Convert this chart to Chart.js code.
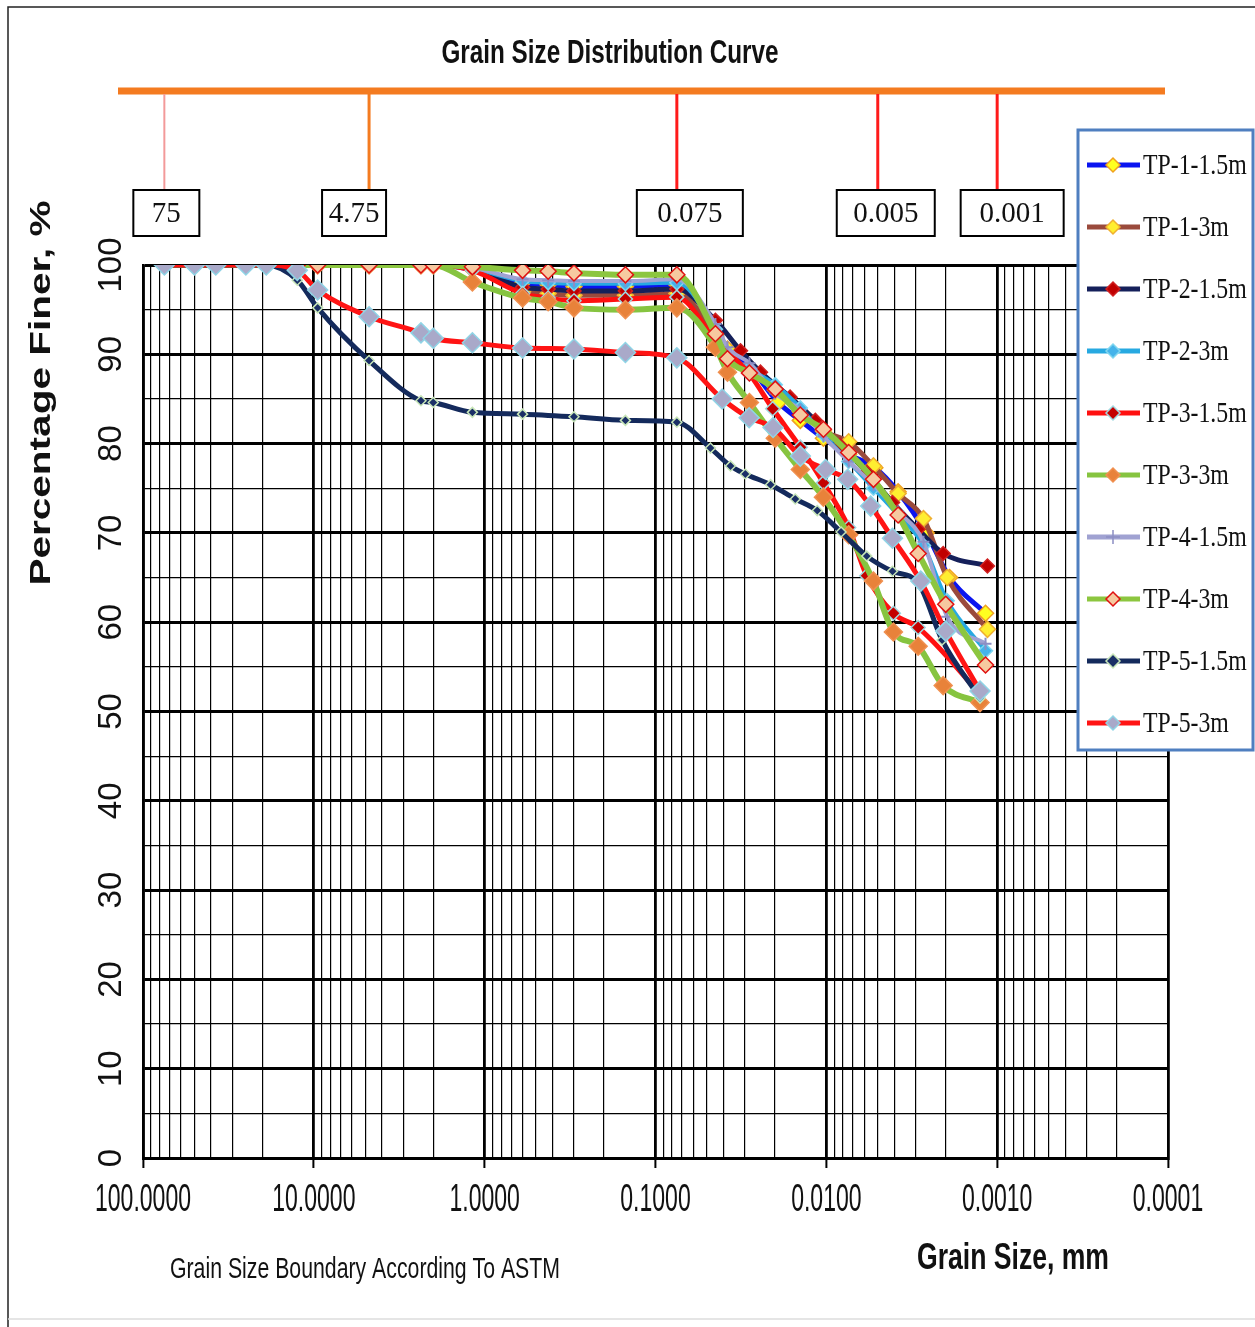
<!DOCTYPE html>
<html>
<head>
<meta charset="utf-8">
<title>Grain Size Distribution Curve</title>
<script src="https://cdn.jsdelivr.net/npm/chart.js@4.4.1/dist/chart.umd.min.js"></script>
<style>
  body { margin: 0; background: #fff; }
  #wrap { width: 1255px; height: 1327px; }
</style>
</head>
<body>
<div id="wrap"><canvas id="gsd" width="1255" height="1327"></canvas></div>
<script>
// ---- data ----
const seriesNames = ['TP-1-1.5m', 'TP-1-3m', 'TP-2-1.5m', 'TP-2-3m', 'TP-3-1.5m',
                     'TP-3-3m', 'TP-4-1.5m', 'TP-4-3m', 'TP-5-1.5m', 'TP-5-3m'];

// sieve openings, mm
const sieveSizes = [75, 50, 37.5, 25, 19, 12.5, 9.5, 4.75, 2.36, 2.0, 1.18, 0.6, 0.425, 0.3, 0.15, 0.075];

// percent finer on the sieves (null = no reading)
const tp1_15Sieve = [100, 100, 100, 100, 100, 100, 100, 100, 100, 100, 99.5, 98.0, 97.8, 97.6, 97.6, 97.8];
const tp1_3Sieve  = [100, 100, 100, 100, 100, 100, 100, 100, 100, 100, 99.5, 97.0, 96.8, 96.6, 96.6, 96.8];
const tp2_15Sieve = [100, 100, 100, 100, 100, 100, 100, 100, 100, 100, 99.6, 97.5, 97.3, 97.1, 97.1, 97.3];
const tp2_3Sieve  = [100, 100, 100, 100, 100, 100, 100, 100, 100, 100, 99.6, 98.2, 98.0, 97.9, 97.9, 98.0];
const tp3_15Sieve = [100, 100, 100, 100, 100, 100, 100, 100, 100, 100, 99.4, 96.8, 96.3, 96.0, 96.2, 96.4];
const tp3_3Sieve  = [100, 100, 100, 100, 100, 100, 100, 100, 100, 100, 98.1, 96.3, 95.9, 95.2, 95.0, 95.2];
const tp4_15Sieve = [100, 100, 100, 100, 100, 100, 100, 100, 100, 100, 99.7, 98.4, 98.3, 98.2, 98.2, 98.4];
const tp4_3Sieve  = [100, 100, 100, 100, 100, 100, 100, 100, 100, 100, 99.8, 99.4, 99.3, 99.1, 98.9, 98.9];
const tp5_15Sieve = [100, 100, 100, 100, 100, 98.3, 95.2, 89.3, 84.8, 84.6, 83.5, 83.3, null, 83.0, 82.6, 82.4];
const tp5_3Sieve  = [100, 100, 100, 100, 100, 99.4, 97.2, 94.2, 92.4, 91.8, 91.3, 90.7, null, 90.6, 90.2, 89.6];

// hydrometer diameters, mm, and percent finer
const tp1_15HydD = [0.0446, 0.0379, 0.0282, 0.0191, 0.0142, 0.0104, 0.0074, 0.0052, 0.0038, 0.0026, 0.0019, 0.00117];
const tp1_15HydP = [93.0, 90.6, 88.6, 84.6, 82.6, 80.6, 78.8, 77.3, 74.6, 70.0, 65.0, 61.0];
const tp1_3HydD  = [0.0446, 0.0379, 0.0282, 0.0199, 0.0142, 0.0104, 0.0074, 0.0053, 0.0038, 0.0027, 0.00196, 0.00114];
const tp1_3HydP  = [92.2, 90.0, 88.2, 86.0, 83.6, 81.4, 80.2, 77.5, 74.4, 71.6, 65.0, 59.2];
const tp2_15HydD = [0.0446, 0.0318, 0.0243, 0.0163, 0.0116, 0.0083, 0.0058, 0.0041, 0.0029, 0.00207, 0.00114];
const tp2_15HydP = [93.8, 90.4, 88.0, 85.2, 82.6, 79.8, 76.8, 73.4, 70.4, 67.7, 66.3];
const tp2_3HydD  = [0.0446, 0.0379, 0.0282, 0.0199, 0.0142, 0.0104, 0.0074, 0.0053, 0.0038, 0.0027, 0.00196, 0.00117];
const tp2_3HydP  = [92.8, 90.2, 88.4, 86.6, 84.0, 81.0, 78.0, 75.0, 72.0, 68.6, 62.4, 56.8];
const tp3_15HydD = [0.0446, 0.0282, 0.0206, 0.0142, 0.0104, 0.0074, 0.0058, 0.00405, 0.0029, 0.00126];
const tp3_15HydP = [91.6, 87.8, 83.9, 79.6, 75.6, 70.6, 65.2, 61.0, 59.4, 52.0];
const tp3_3HydD  = [0.0446, 0.0379, 0.0282, 0.0199, 0.0142, 0.0104, 0.0074, 0.0053, 0.00405, 0.0029, 0.00207, 0.00126];
const tp3_3HydP  = [90.8, 88.0, 84.6, 80.6, 77.1, 74.0, 69.8, 64.6, 58.9, 57.3, 52.9, 51.0];
const tp4_15HydD = [0.0446, 0.0379, 0.0282, 0.0199, 0.0142, 0.0104, 0.0074, 0.0053, 0.0038, 0.0027, 0.00196, 0.00117];
const tp4_15HydP = [93.4, 90.8, 89.0, 85.6, 83.8, 80.8, 78.0, 75.4, 72.4, 69.0, 60.6, 57.6];
const tp4_3HydD  = [0.0446, 0.0379, 0.0282, 0.0199, 0.0142, 0.0104, 0.0074, 0.0053, 0.0038, 0.0029, 0.0020, 0.00117];
const tp4_3HydP  = [92.3, 89.5, 87.9, 86.1, 83.2, 81.6, 79.0, 76.0, 72.0, 67.7, 62.0, 55.2];
const tp5_15HydD = [0.0477, 0.0364, 0.0298, 0.0212, 0.0152, 0.0113, 0.0082, 0.0058, 0.0041, 0.0029, 0.0021, 0.00126];
const tp5_15HydP = [79.5, 77.5, 76.6, 75.4, 73.8, 72.5, 70.1, 67.4, 65.7, 64.4, 58.0, 51.5];
const tp5_3HydD  = [0.0407, 0.0283, 0.0205, 0.0142, 0.0101, 0.0075, 0.0055, 0.0041, 0.0028, 0.0020, 0.00126];
const tp5_3HydP  = [85.0, 82.9, 81.8, 78.6, 77.1, 76.0, 73.0, 69.4, 64.6, 59.0, 52.3];

// axes
const decadeTicks  = [100, 10, 1, 0.1, 0.01, 0.001, 0.0001];
const decadeLabels = ['100.0000', '10.0000', '1.0000', '0.1000', '0.0100', '0.0010', '0.0001'];
const yTickValues  = [0, 10, 20, 30, 40, 50, 60, 70, 80, 90, 100];

// ASTM boundaries shown above the plot
const astmSizes  = [75, 4.75, 0.075, 0.005, 0.001];
const astmLabels = ['75', '4.75', '0.075', '0.005', '0.001'];

// ---- styles ----
const lineColors   = ['#0a14f0', '#9a4a3c', '#15205a', '#27a9e1', '#ff1010',
                      '#86c440', '#a0a2d2', '#8cc63f', '#142a5c', '#ff1414'];
const markFill     = ['#ffff20', '#ffee30', '#c00000', '#45b3ea', '#c40000',
                      '#e8823a', '#8c8ec4', '#f6c9a0', '#1b2f66', '#a9a9c9'];
const markBorder   = ['#f0a020', '#f0b030', '#d02020', '#7fd6ef', '#9fd8e0',
                      '#f09050', '#8c8ec4', '#e01010', '#c8e6b8', '#8fd4e6'];
const markStyle    = ['rectRot', 'rectRot', 'rectRot', 'rectRot', 'rectRot',
                      'rectRot', 'cross', 'rectRot', 'rectRot', 'rectRot'];
const markRadius   = [8, 8, 7, 7, 7, 9, 6, 8, 5, 10];
const lineWidths   = [5, 5, 5, 4, 5, 6, 4, 6, 5, 5];

const sieveSets = [tp1_15Sieve, tp1_3Sieve, tp2_15Sieve, tp2_3Sieve, tp3_15Sieve,
                   tp3_3Sieve, tp4_15Sieve, tp4_3Sieve, tp5_15Sieve, tp5_3Sieve];
const hydD = [tp1_15HydD, tp1_3HydD, tp2_15HydD, tp2_3HydD, tp3_15HydD,
              tp3_3HydD, tp4_15HydD, tp4_3HydD, tp5_15HydD, tp5_3HydD];
const hydP = [tp1_15HydP, tp1_3HydP, tp2_15HydP, tp2_3HydP, tp3_15HydP,
              tp3_3HydP, tp4_15HydP, tp4_3HydP, tp5_15HydP, tp5_3HydP];

function points(sieve, dd, pp) {
  const out = [];
  sieve.forEach((v, i) => { if (v !== null) out.push({ x: sieveSizes[i], y: v }); });
  dd.forEach((d, i) => out.push({ x: d, y: pp[i] }));
  return out;
}

const datasets = seriesNames.map((name, i) => ({
  label: name,
  data: points(sieveSets[i], hydD[i], hydP[i]),
  borderColor: lineColors[i],
  borderWidth: lineWidths[i],
  backgroundColor: markFill[i],
  pointBackgroundColor: markFill[i],
  pointBorderColor: markBorder[i],
  pointBorderWidth: markStyle[i] === 'cross' ? 2 : 1.5,
  pointStyle: markStyle[i],
  pointRadius: markRadius[i],
  cubicInterpolationMode: 'monotone',
  order: seriesNames.length - i   // later series on top, as in the sheet
}));

function isDecade(v) {
  const l = Math.log10(v);
  return Math.abs(l - Math.round(l)) < 1e-6;
}

// text squeezed or stretched to a given width
function fitText(ctx, s, x, y, font, width, rot, align) {
  ctx.save();
  ctx.font = font;
  const w = ctx.measureText(s).width;
  ctx.translate(x, y);
  if (rot) ctx.rotate(rot);
  ctx.scale(width ? width / w : 1, 1);
  ctx.textAlign = align || 'center';
  ctx.textBaseline = 'middle';
  ctx.fillText(s, 0, 0);
  ctx.restore();
}

const decor = {
  id: 'decor',
  beforeDraw(chart) {
    const ctx = chart.ctx;
    ctx.save();
    ctx.fillStyle = '#fff';
    ctx.fillRect(0, 0, chart.width, chart.height);
    ctx.strokeStyle = '#222';
    ctx.lineWidth = 1.5;
    ctx.beginPath();
    ctx.moveTo(8, chart.height); ctx.lineTo(8, 7); ctx.lineTo(chart.width, 7);
    ctx.stroke();
    ctx.strokeStyle = '#ddd';
    ctx.beginPath(); ctx.moveTo(8, 1319); ctx.lineTo(chart.width, 1319); ctx.stroke();
    ctx.restore();
  },
  afterDraw(chart) {
    const ctx = chart.ctx;
    const xs = chart.scales.x, ys = chart.scales.y;
    ctx.save();
    ctx.fillStyle = '#111';

    // title
    fitText(ctx, 'Grain Size Distribution Curve', 610, 54, 'bold 34px "Liberation Sans", Arial, sans-serif', 337);

    // ASTM boundary bar
    ctx.strokeStyle = '#f47b20';
    ctx.lineWidth = 7;
    ctx.beginPath(); ctx.moveTo(118, 91); ctx.lineTo(1165, 91); ctx.stroke();
    const boxW = [66, 64, 106, 98, 103];
    const boxShift = [2, -15, 13, 8, 15];
    const dropColor = ['#f39a9a', '#f47b20', '#ff1a1a', '#ff1a1a', '#ff1a1a'];
    astmSizes.forEach((s, i) => {
      const px = xs.getPixelForValue(s);
      ctx.strokeStyle = dropColor[i];
      ctx.lineWidth = i === 0 ? 2 : 3;
      ctx.beginPath(); ctx.moveTo(px, 94); ctx.lineTo(px, 190); ctx.stroke();
      const cx = px + boxShift[i];
      ctx.fillStyle = '#fff';
      ctx.fillRect(cx - boxW[i] / 2, 190, boxW[i], 46);
      ctx.strokeStyle = '#000';
      ctx.lineWidth = 2;
      ctx.strokeRect(cx - boxW[i] / 2, 190, boxW[i], 46);
      ctx.fillStyle = '#111';
      fitText(ctx, astmLabels[i], cx, 214, '29px "Liberation Serif", "Times New Roman", serif', 0);
    });

    // y tick labels (rotated, as in the sheet)
    yTickValues.forEach(v => {
      fitText(ctx, String(v), 112, ys.getPixelForValue(v), '33px "Liberation Sans", Arial, sans-serif', 0, -Math.PI / 2);
    });

    // x tick labels
    ctx.font = '38px "Liberation Sans", Arial, sans-serif';
    const sx = 96 / ctx.measureText('100.0000').width;
    decadeTicks.forEach((d, i) => {
      const w = ctx.measureText(decadeLabels[i]).width * sx;
      fitText(ctx, decadeLabels[i], xs.getPixelForValue(d), 1201, '38px "Liberation Sans", Arial, sans-serif', w);
    });

    // axis titles
    fitText(ctx, 'Percentage Finer, %', 42, 393, 'bold 29px "Liberation Sans", Arial, sans-serif', 385, -Math.PI / 2);
    fitText(ctx, 'Grain Size, mm', 1013, 1259, 'bold 37px "Liberation Sans", Arial, sans-serif', 192);
    fitText(ctx, 'Grain Size Boundary According To ASTM', 365, 1270, '30px "Liberation Sans", Arial, sans-serif', 390);

    // legend box
    ctx.fillStyle = '#fff';
    ctx.fillRect(1078, 130, 175, 620);
    ctx.strokeStyle = '#4f7fc0';
    ctx.lineWidth = 3;
    ctx.strokeRect(1078, 130, 175, 620);
    seriesNames.forEach((name, i) => {
      const y = 165 + i * 62;
      ctx.strokeStyle = lineColors[i];
      ctx.lineWidth = 5;
      ctx.beginPath(); ctx.moveTo(1087, y); ctx.lineTo(1140, y); ctx.stroke();
      ctx.fillStyle = markFill[i];
      ctx.strokeStyle = markBorder[i];
      ctx.lineWidth = 1.5;
      Chart.helpers.drawPoint(ctx, { pointStyle: markStyle[i], radius: 7, rotation: 0, borderWidth: 1.5 }, 1113, y);
      ctx.fillStyle = '#111';
      ctx.font = '29px "Liberation Serif", "Times New Roman", serif';
      const w = ctx.measureText(name).width * 0.82;
      fitText(ctx, name, 1143, y + 1, '29px "Liberation Serif", "Times New Roman", serif', w, 0, 'left');
    });
    ctx.restore();
  }
};

new Chart(document.getElementById('gsd'), {
  type: 'line',
  data: { datasets },
  options: {
    responsive: false,
    animation: false,
    devicePixelRatio: 1,
    layout: { padding: { top: 265, right: 87, left: 0, bottom: 0 } },
    plugins: { legend: { display: false }, tooltip: { enabled: false } },
    elements: { line: { tension: 0.4 } },
    scales: {
      x: {
        type: 'logarithmic',
        reverse: true,
        min: 0.0001,
        max: 100,
        afterBuildTicks: scale => {
          const t = [];
          decadeTicks.slice(1).forEach(d => {
            for (let k = 1; k <= 9; k++) t.push({ value: +(d * k).toPrecision(6) });
          });
          t.push({ value: 100 });
          scale.ticks = t;
        },
        afterFit: scale => { scale.height = 169; },
        ticks: { display: false, autoSkip: false },
        grid: {
          color: '#000',
          lineWidth: c => isDecade(c.tick.value) ? 2.8 : 1.2,
          drawTicks: true,
          tickLength: 10,
          tickWidth: 2,
          tickColor: c => isDecade(c.tick.value) ? '#000' : 'rgba(0,0,0,0)'
        },
        border: { display: true, color: '#000', width: 3 }
      },
      y: {
        min: 0,
        max: 100,
        afterFit: scale => { scale.width = 143; },
        ticks: { display: false, stepSize: 5 },
        grid: {
          color: '#000',
          lineWidth: c => c.tick.value % 10 === 0 ? 3 : 1.3,
          drawTicks: false
        },
        border: { display: true, color: '#000', width: 2.5 }
      }
    }
  },
  plugins: [decor]
});
</script>
</body>
</html>
